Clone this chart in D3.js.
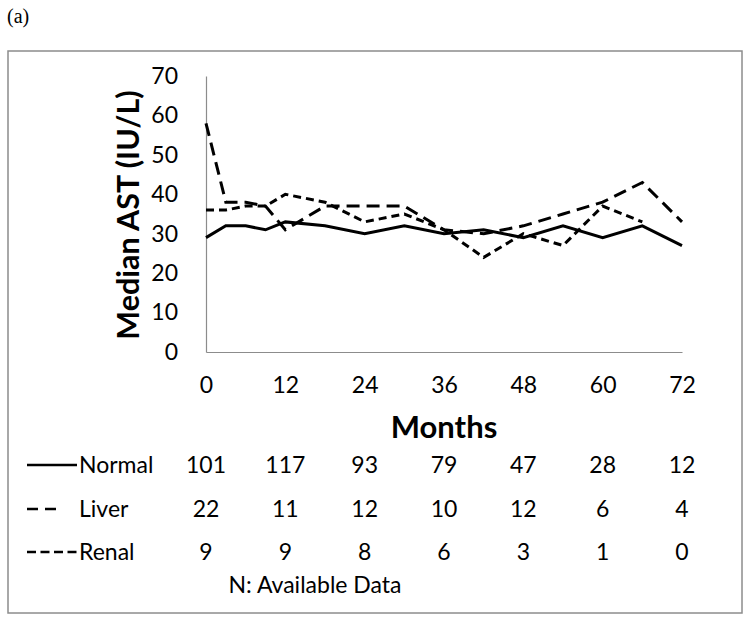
<!DOCTYPE html>
<html><head><meta charset="utf-8">
<script src="https://cdn.jsdelivr.net/npm/d3@7"></script>
<style>body{margin:0;background:#fff}</style>
</head><body>
<svg id="c" width="751" height="623"></svg>
<script>
const months = [0,3,6,9,12,18,24,30,36,42,48,54,60,66,72];
const normal = [29,32,32,31,33,32,30,32,30,31,29,32,29,32,27];
const liver  = [58,38,38,37,31,37,37,37,31,30,32,35,38,43,33];
const renal  = [36,36,37,37,40,38,33,35,31,24,30,27,37,33,null];
const yTicks = [0,10,20,30,40,50,60,70];
const xTicks = [0,12,24,36,48,60,72];
const nNormal = [101,117,93,79,47,28,12];
const nLiver  = [22,11,12,10,12,6,4];
const nRenal  = [9,9,8,6,3,1,0];
const seriesNames = ["Normal","Liver","Renal"];

const svg = d3.select("#c");
const F = "Lato, 'Open Sans', sans-serif";
svg.append("text").attr("x",7).attr("y",23).attr("font-family","'Liberation Serif', serif").attr("font-size",20).text("(a)");
svg.append("rect").attr("x",8).attr("y",51).attr("width",734).attr("height",562).attr("fill","none").attr("stroke","#8c8c8c").attr("stroke-width",1.5);

const x = d3.scaleLinear().domain([0,72]).range([206,682]);
const y = d3.scaleLinear().domain([0,70]).range([352,76]);

const gx = svg.append("g").attr("transform","translate(0,352)")
  .call(d3.axisBottom(x).tickValues(xTicks).tickSize(0).tickPadding(25));
const gy = svg.append("g").attr("transform","translate(206,0)")
  .call(d3.axisLeft(y).tickValues(yTicks).tickSize(0).tickPadding(28));
[gx,gy].forEach(g=>{
  g.select(".domain").attr("stroke","#8c8c8c").attr("stroke-width",1.2);
  g.selectAll("text").attr("font-family",F).attr("font-size",23).attr("fill","#000");
});

const styles = {Normal:null, Liver:"13,7", Renal:"8,5"};
const data = {Normal:normal, Liver:liver, Renal:renal};
const line = d3.line().defined(d=>d[1]!=null).x(d=>x(d[0])).y(d=>y(d[1]));
seriesNames.forEach(s=>{
  svg.append("path").datum(months.map((m,i)=>[m,data[s][i]]))
    .attr("d",line).attr("fill","none").attr("stroke","#000")
    .attr("stroke-width",3).attr("stroke-linejoin","miter")
    .attr("stroke-dasharray",styles[s]);
});

svg.append("text").attr("x",444).attr("y",438).attr("text-anchor","middle")
  .attr("font-family",F).attr("font-weight","bold").attr("font-size",31).text("Months");
svg.append("text").attr("transform","translate(139,215) rotate(-90)").attr("text-anchor","middle")
  .attr("font-family",F).attr("font-weight","bold").attr("font-size",30.5).text("Median AST (IU/L)");

const rowsY = [465,509,552];
const counts = {Normal:nNormal, Liver:nLiver, Renal:nRenal};
const legendDash = {Normal:null, Liver:"11,7", Renal:"9,4.5"};
const legendEnd = {Normal:77, Liver:56, Renal:77};
seriesNames.forEach((s,r)=>{
  const yy = rowsY[r];
  svg.append("line").attr("x1",27).attr("x2",legendEnd[s]).attr("y1",yy).attr("y2",yy)
    .attr("stroke","#000").attr("stroke-width",2.5).attr("stroke-dasharray",legendDash[s]);
  svg.append("text").attr("x",79).attr("y",yy).attr("dy","0.36em")
    .attr("font-family",F).attr("font-size",23).text(s);
  svg.selectAll(null).data(counts[s]).enter().append("text")
    .attr("x",(d,i)=>x(xTicks[i])).attr("y",yy).attr("dy","0.36em").attr("text-anchor","middle")
    .attr("font-family",F).attr("font-size",23).text(d=>d);
});
svg.append("text").attr("x",315).attr("y",585).attr("dy","0.36em").attr("text-anchor","middle")
  .attr("font-family",F).attr("font-size",23).text("N: Available Data");
</script>
</body></html>
